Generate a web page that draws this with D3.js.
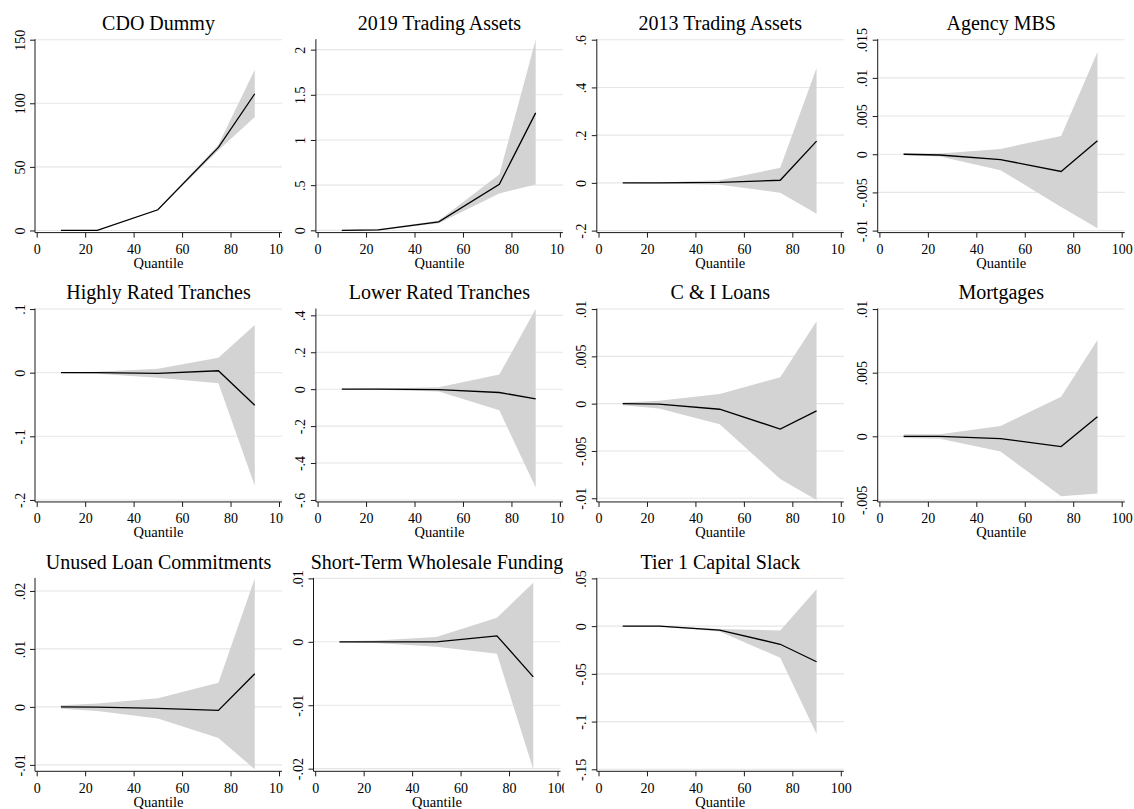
<!DOCTYPE html>
<html>
<head>
<meta charset="utf-8">
<script src="https://cdn.jsdelivr.net/npm/d3@7"></script>
<style>
  body { margin: 0; background: #fff; }
  svg text { font-family: "Liberation Serif", "Times New Roman", serif; fill: #000; }
</style>
</head>
<body>
<svg id="chart" width="1134" height="809"></svg>
<script>
// quantile points along the x axis
const quantiles = [10, 25, 50, 75, 90];
const xTicks = [0, 20, 40, 60, 80, 100];

const titles = [
  'CDO Dummy', '2019 Trading Assets', '2013 Trading Assets', 'Agency MBS',
  'Highly Rated Tranches', 'Lower Rated Tranches', 'C & I Loans', 'Mortgages',
  'Unused Loan Commitments', 'Short-Term Wholesale Funding', 'Tier 1 Capital Slack'
];

// point estimates, one row per panel
const estimates = [
  [0, 0, 16.3, 65.3, 107.5],
  [0, 0.004, 0.093, 0.509, 1.30],
  [0, 0, 0.002, 0.011, 0.175],
  [0, -0.0001, -0.0007, -0.00226, 0.00176],
  [0, 0, -0.001, 0.003, -0.0513],
  [0, 0, -0.002, -0.018, -0.052],
  [0, -0.00005, -0.00059, -0.00268, -0.00076],
  [0, 0, -0.00018, -0.00081, 0.00154],
  [0, -0.00005, -0.00025, -0.0006, 0.00573],
  [0, 0, 0, 0.00094, -0.00552],
  [0, 0, -0.0042, -0.019, -0.0373]
];

// confidence band, lower edge
const lowerCI = [
  [-0.1, -0.1, 16.0, 63.0, 89.2],
  [-0.003, -0.002, 0.078, 0.409, 0.506],
  [-0.001, -0.002, -0.008, -0.041, -0.129],
  [-0.0001, -0.0003, -0.0021, -0.0069, -0.0097],
  [-0.0005, -0.0015, -0.008, -0.0168, -0.1775],
  [-0.001, -0.003, -0.012, -0.114, -0.533],
  [-0.00016, -0.0005, -0.00218, -0.00797, -0.01018],
  [-0.00013, -0.0002, -0.0012, -0.0047, -0.0045],
  [-0.0003, -0.0007, -0.002, -0.00536, -0.01076],
  [-0.0001, -0.0002, -0.00076, -0.0019, -0.0201],
  [-0.0003, -0.0005, -0.0056, -0.0331, -0.113]
];

// confidence band, upper edge
const upperCI = [
  [0.1, 0.1, 16.6, 67.5, 126.4],
  [0.003, 0.01, 0.11, 0.617, 2.11],
  [0.001, 0.002, 0.011, 0.063, 0.481],
  [0.0001, 0.0001, 0.0007, 0.0024, 0.0134],
  [0.0005, 0.0015, 0.006, 0.0236, 0.0749],
  [0.001, 0.003, 0.011, 0.079, 0.434],
  [0.00012, 0.0003, 0.00101, 0.0028, 0.00872],
  [0.00016, 0.00016, 0.00081, 0.0031, 0.00757],
  [0.0003, 0.0006, 0.0015, 0.00416, 0.02216],
  [0.0001, 0.0002, 0.00078, 0.0038, 0.00931],
  [0.0003, 0.0005, -0.003, -0.0046, 0.0387]
];

const yTicks = [
  [0, 50, 100, 150],
  [0, 0.5, 1, 1.5, 2],
  [-0.2, 0, 0.2, 0.4, 0.6],
  [-0.01, -0.005, 0, 0.005, 0.01, 0.015],
  [-0.2, -0.1, 0, 0.1],
  [-0.6, -0.4, -0.2, 0, 0.2, 0.4],
  [-0.01, -0.005, 0, 0.005, 0.01],
  [-0.005, 0, 0.005, 0.01],
  [-0.01, 0, 0.01, 0.02],
  [-0.02, -0.01, 0, 0.01],
  [-0.15, -0.1, -0.05, 0, 0.05]
];

// layout (pixels)
const colStep = 280.9;
const rowStep = 269.35;
const firstAxisX = 35;
const plotW = 247;

// Stata style labels: drop the leading zero
const fmt = v => String(v).replace(/^(-?)0\./, '$1.');

const svg = d3.select('#chart');

titles.forEach((title, i) => {
  const col = i % 4;
  const row = Math.floor(i / 4);
  const ax = firstAxisX + col * colStep - (i === 9 ? 2.4 : 0);
  const top = row * rowStep;
  const xAxisY = top + 232.6;

  const g = svg.append('g').attr('class', 'panel');

  // opaque panel background, later panels hide what spills over
  g.append('rect')
    .attr('x', firstAxisX + col * colStep - 32.5)
    .attr('y', top)
    .attr('width', colStep + (col === 3 ? 20 : 0))
    .attr('height', rowStep)
    .attr('fill', '#fff');

  const allVals = yTicks[i].concat(lowerCI[i], upperCI[i]);
  const y = d3.scaleLinear()
    .domain(d3.extent(allVals))
    .range([top + 230.6, top + 39.7]);
  const x = d3.scaleLinear()
    .domain([0, 100])
    .range([ax + 1.7, ax + 244]);

  // gridlines
  g.append('g')
    .selectAll('line')
    .data(yTicks[i])
    .join('line')
      .attr('x1', ax)
      .attr('x2', ax + plotW)
      .attr('y1', d => y(d))
      .attr('y2', d => y(d))
      .attr('stroke', '#e6e6e6')
      .attr('stroke-width', 1.1);

  // band
  const pts = quantiles.map((q, k) => ({q, lo: lowerCI[i][k], hi: upperCI[i][k], est: estimates[i][k]}));
  g.append('path')
    .datum(pts)
    .attr('fill', '#d3d3d3')
    .attr('d', d3.area().x(d => x(d.q)).y0(d => y(d.lo)).y1(d => y(d.hi)));

  // estimate line
  g.append('path')
    .datum(pts)
    .attr('fill', 'none')
    .attr('stroke', '#000')
    .attr('stroke-width', 1.3)
    .attr('d', d3.line().x(d => x(d.q)).y(d => y(d.est)));

  // y axis
  const yAxis = g.append('g')
    .attr('transform', `translate(${ax},0)`)
    .call(d3.axisLeft(y).tickValues(yTicks[i]).tickFormat(fmt).tickSize(5));
  yAxis.select('.domain').remove();
  yAxis.selectAll('line').attr('stroke', '#1a1a1a');
  yAxis.selectAll('text')
    .attr('font-size', 14)
    .attr('font-family', '"Liberation Serif", serif')
    .attr('transform', 'rotate(-90)')
    .attr('text-anchor', 'middle')
    .attr('x', 0)
    .attr('y', -10.5)
    .attr('dy', 0);

  // x axis
  const xAxis = g.append('g')
    .attr('transform', `translate(0,${xAxisY})`)
    .call(d3.axisBottom(x).tickValues(xTicks).tickSize(5));
  xAxis.select('.domain').remove();
  xAxis.selectAll('line').attr('stroke', '#1a1a1a');
  xAxis.selectAll('text')
    .attr('font-size', 14)
    .attr('font-family', '"Liberation Serif", serif')
    .attr('y', 21.3)
    .attr('dy', 0);

  // axis lines
  g.append('line')
    .attr('x1', ax).attr('x2', ax)
    .attr('y1', y.range()[1] - 0.5).attr('y2', xAxisY)
    .attr('stroke', '#1a1a1a');
  g.append('line')
    .attr('x1', ax).attr('x2', ax + plotW)
    .attr('y1', xAxisY).attr('y2', xAxisY)
    .attr('stroke', '#1a1a1a');

  g.append('text')
    .attr('x', ax + 123.5)
    .attr('y', top + 268)
    .attr('text-anchor', 'middle')
    .attr('font-size', 14.5)
    .text('Quantile');

  g.append('text')
    .attr('x', ax + 123.5)
    .attr('y', top + 30)
    .attr('text-anchor', 'middle')
    .attr('font-size', 20)
    .text(title);
});
</script>
</body>
</html>
